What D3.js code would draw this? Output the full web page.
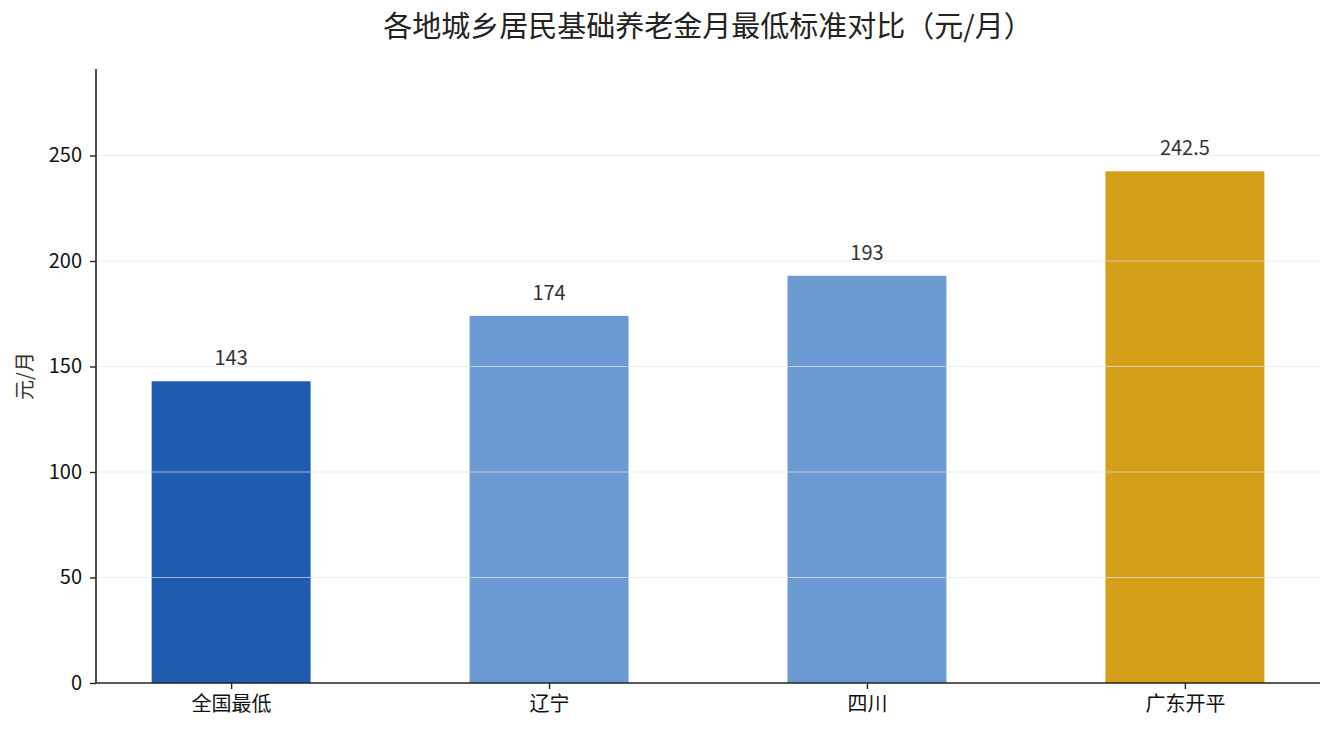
<!DOCTYPE html>
<html>
<head>
<meta charset="utf-8">
<script src="https://cdn.jsdelivr.net/npm/d3@7"></script>
<style>
  body { margin: 0; background: #fff; }
  text { font-family: "Noto Sans CJK SC", "Noto Sans", sans-serif; }
</style>
</head>
<body>
<div id="chart"></div>
<script>
// data
var regions = ["全国最低", "辽宁", "四川", "广东开平"];
var monthlyMin = [143, 174, 193, 242.5];
var barColors = ["#1f5baf", "#6b9bd2", "#6b9bd2", "#d4a01a"];
var yTicks = [0, 50, 100, 150, 200, 250];

var W = 1334, H = 735;
var margin = { top: 69, right: 14, bottom: 52, left: 96 },
    width = W - margin.left - margin.right,
    height = H - margin.top - margin.bottom;

var svg = d3.select("#chart")
    .append("svg")
    .attr("width", W)
    .attr("height", H);

var g = svg.append("g")
    .attr("transform", "translate(" + margin.left + "," + margin.top + ")");

// bars sit at 0..n-1 with width 0.5, axes padded like matplotlib
var x = d3.scaleLinear()
    .domain([-0.425, regions.length - 1 + 0.425])
    .range([0, width]);

var y = d3.scaleLinear()
    .domain([0, d3.max(monthlyMin) * 1.2])
    .range([height, 0]);

var barW = x(0.5) - x(0);

g.selectAll(".bar")
    .data(monthlyMin)
    .enter()
    .append("rect")
    .attr("class", "bar")
    .attr("x", function (d, i) { return x(i) - barW / 2; })
    .attr("y", function (d) { return y(d); })
    .attr("width", barW)
    .attr("height", function (d) { return y(0) - y(d); })
    .attr("fill", function (d, i) { return barColors[i]; });

// grid lines drawn on top of the bars
g.selectAll(".grid")
    .data(yTicks.filter(function (t) { return t > 0; }))
    .enter()
    .append("line")
    .attr("x1", 0)
    .attr("x2", width)
    .attr("y1", function (d) { return y(d); })
    .attr("y2", function (d) { return y(d); })
    .attr("stroke", "#e4e4e4")
    .attr("stroke-width", 0.8)
    .attr("opacity", 0.85);

// value labels
g.selectAll(".val")
    .data(monthlyMin)
    .enter()
    .append("text")
    .attr("x", function (d, i) { return x(i); })
    .attr("y", function (d) { return y(d) - 16; })
    .attr("text-anchor", "middle")
    .attr("font-size", 20)
    .attr("fill", "#333")
    .text(function (d) { return d; });

var yAxis = g.append("g")
    .call(d3.axisLeft(y).tickValues(yTicks).tickSize(6).tickPadding(8));

var xAxis = g.append("g")
    .attr("transform", "translate(0," + height + ")")
    .call(d3.axisBottom(x)
        .tickValues(d3.range(regions.length))
        .tickFormat(function (d) { return regions[d]; })
        .tickSize(6).tickPadding(8));

[yAxis, xAxis].forEach(function (ax) {
    ax.select(".domain").attr("stroke", "#222").attr("stroke-width", 1.6);
    ax.selectAll(".tick line").attr("stroke", "#222").attr("stroke-width", 1.4);
    ax.selectAll(".tick text")
        .attr("font-size", 20)
        .attr("fill", "#111")
        .style("font-family", "'Noto Sans CJK SC', sans-serif");
});
yAxis.select(".domain").attr("d", "M0," + height + "V0");
xAxis.select(".domain").attr("d", "M0,0H" + width);

// y axis title
svg.append("text")
    .attr("transform", "translate(32," + (margin.top + height / 2) + ") rotate(-90)")
    .attr("text-anchor", "middle")
    .attr("font-size", 20)
    .attr("fill", "#333")
    .text("元/月");

// chart title
svg.append("text")
    .attr("x", margin.left + width / 2)
    .attr("y", 37)
    .attr("text-anchor", "middle")
    .attr("font-size", 29)
    .attr("fill", "#222")
    .text("各地城乡居民基础养老金月最低标准对比（元/月）");
</script>
</body>
</html>
